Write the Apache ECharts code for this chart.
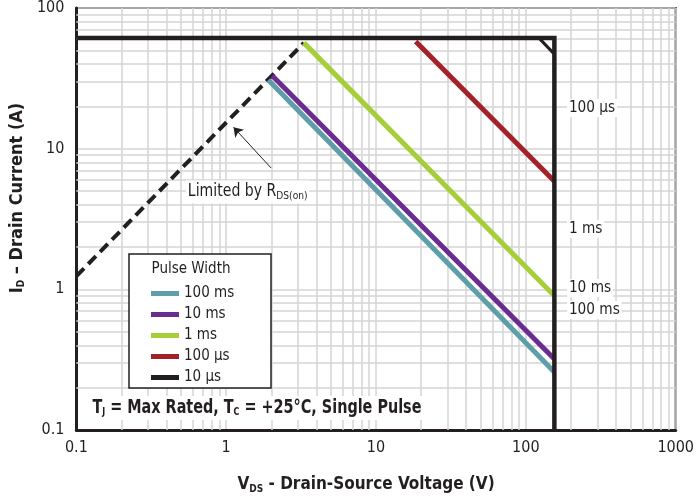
<!DOCTYPE html>
<html lang="en">
<head>
    <meta charset="UTF-8">
    <title>Safe Operating Area</title>
    <style>
        html, body { margin: 0; padding: 0; background: #fff; }
        #container { width: 697px; height: 499px; }
    </style>
</head>
<body>
<div id="container"></div>
<script src="https://cdn.jsdelivr.net/npm/echarts/dist/echarts.min.js"></script>
<script type="text/javascript">
    // values: [V_DS (V), I_D (A)]
    var rdsLimit    = [[0.1, 1.24], [3.3, 56.5]];
    var pulse100ms  = [[1.91, 30.8], [155, 0.258]];
    var pulse10ms   = [[2.03, 33], [155, 0.32]];
    var pulse1ms    = [[3.3, 56.5], [155, 0.9]];
    var pulse100us  = [[18.4, 57.7], [155, 5.86]];
    var pulse10us   = [[0.1, 61.3], [155, 61.3], [155, 0.1]];
    var cornerCut   = [[122, 61.3], [155, 47]];
    var arrowLine   = [[1.99, 7.3], [1.12, 14.2]];

    var legendNames = ['100 ms', '10 ms', '1 ms', '100 µs', '10 µs'];
    var xTicks = ['0.1', '1', '10', '100', '1000'];

    // minor log grid lines (2..9 in every decade)
    var mantissas = [2, 3, 4, 5, 6, 7, 8, 9];
    var xDecades = [0.1, 1, 10, 100];
    var yDecades = [0.1, 1, 10];

    var font = "'Liberation Sans Narrow', 'DejaVu Sans Condensed', sans-serif";
    var ink = '#231f20';
    var gridGrey = '#d4d4d4';

    var minorLines = [];
    xDecades.forEach(function (d) {
        mantissas.forEach(function (m) { minorLines.push({xAxis: +(d * m).toPrecision(3)}); });
    });
    yDecades.forEach(function (d) {
        mantissas.forEach(function (m) { minorLines.push({yAxis: +(d * m).toPrecision(3)}); });
    });

    function pulseLine(name, data, color) {
        return {
            name: name, type: 'line', data: data, symbol: 'none', z: 3,
            lineStyle: {color: color, width: 5, cap: 'butt'},
            itemStyle: {color: color}
        };
    }

    function note(x, y, text, size, sx) {
        return {type: 'text', z: 10, x: x, y: y, scaleX: sx || 1,
            style: {text: text, fontSize: size, fontFamily: font, fill: ink, backgroundColor: '#fff', padding: [1, 2],
                textVerticalAlign: 'middle', verticalAlign: 'middle'}};
    }

    var chart = echarts.init(document.getElementById('container'));
    var option = {
        animation: false,
        textStyle: {fontFamily: font},
        grid: {left: 74, right: 17, top: 8, bottom: 68, show: true, borderColor: ink, borderWidth: 2},
        xAxis: {
            type: 'log', logBase: 10, min: 0.1, max: 1000,
            axisLine: {show: true, lineStyle: {color: ink, width: 3}},
            axisTick: {show: false},
            axisLabel: {
                color: ink, fontSize: 16, fontFamily: font, margin: 10,
                formatter: function (v) {
                    var i = Math.round(Math.log10(v)) + 1;
                    return xTicks[i] || '';
                }
            },
            splitLine: {show: true, lineStyle: {color: gridGrey, width: 1.5}},
            name: '{m|V}{s|DS}{m| - Drain-Source Voltage (V)}',
            nameLocation: 'middle', nameGap: 46,
            nameTextStyle: {
                color: ink,
                padding: [0, 20, 0, 0],
                rich: {
                    m: {fontSize: 17, fontWeight: 'bold', fontFamily: font, color: ink},
                    s: {fontSize: 10, fontWeight: 'bold', fontFamily: font, color: ink, padding: [8, 0, 0, 0]}
                }
            }
        },
        yAxis: {
            type: 'log', logBase: 10, min: 0.1, max: 100,
            axisLine: {show: true, lineStyle: {color: ink, width: 3}},
            axisTick: {show: false},
            axisLabel: {color: ink, fontSize: 16, fontFamily: font, margin: 12},
            splitLine: {show: true, lineStyle: {color: gridGrey, width: 1.5}},
            name: '{m|I}{s|D}{m| – Drain Current (A)}',
            nameLocation: 'middle', nameGap: 44, nameRotate: 90,
            nameTextStyle: {
                color: ink,
                padding: [0, 0, 0, 42],
                rich: {
                    m: {fontSize: 18, fontWeight: 'bold', fontFamily: font, color: ink},
                    s: {fontSize: 10, fontWeight: 'bold', fontFamily: font, color: ink, padding: [8, 0, 0, 0]}
                }
            }
        },
        legend: {
            data: legendNames,
            orient: 'vertical', left: 146, top: 281, z: 12,
            itemWidth: 28, itemHeight: 5, itemGap: 6,
            icon: 'rect',
            textStyle: {fontSize: 15, fontFamily: font, color: ink}
        },
        graphic: [
            {type: 'rect', z: 9, shape: {x: 129, y: 254, width: 142, height: 134},
                style: {fill: '#fff', stroke: ink, lineWidth: 1.5}},
            {type: 'text', z: 10, x: 191, y: 269,
                style: {text: 'Pulse Width', fontSize: 15, fontFamily: font, fill: ink,
                    textAlign: 'center', textVerticalAlign: 'middle', align: 'center', verticalAlign: 'middle'}},
            note(567, 108, '100 µs', 16, 0.95),
            note(567, 229, '1 ms', 16, 0.95),
            note(567, 288, '10 ms', 16, 0.95),
            note(567, 310, '100 ms', 16, 0.95),
            {type: 'text', z: 10, x: 186, y: 192, scaleX: 0.92,
                style: {
                    text: '{m|Limited by R}{s|DS(on)}', backgroundColor: '#fff', padding: [2, 2],
                    textVerticalAlign: 'middle', verticalAlign: 'middle',
                    rich: {
                        m: {fontSize: 17, fontFamily: font, fill: ink, color: ink},
                        s: {fontSize: 11, fontFamily: font, fill: ink, color: ink, padding: [8, 0, 0, 0]}
                    }
                }},
            {type: 'text', z: 10, x: 90, y: 408, scaleX: 0.8,
                style: {
                    text: '{m|T}{s|J}{m| = Max Rated, T}{s|C}{m| = +25°C, Single Pulse}',
                    backgroundColor: '#fff', padding: [2, 3],
                    textVerticalAlign: 'middle', verticalAlign: 'middle',
                    rich: {
                        m: {fontSize: 20, fontWeight: 'bold', fontFamily: font, fill: ink, color: ink},
                        s: {fontSize: 11, fontWeight: 'bold', fontFamily: font, fill: ink, color: ink, padding: [9, 0, 0, 0]}
                    }
                }}
        ],
        series: [
            {
                name: 'grid', type: 'line', data: [], silent: true, z: 1,
                markLine: {
                    silent: true, symbol: ['none', 'none'], z: 1,
                    label: {show: false},
                    lineStyle: {color: gridGrey, width: 1.5, type: 'solid'},
                    emphasis: {disabled: true},
                    data: minorLines
                }
            },
            {
                name: 'RDS(on) limit', type: 'line', data: rdsLimit, symbol: 'none', z: 3,
                lineStyle: {color: ink, width: 4, type: [11, 6], cap: 'butt'},
                markLine: {
                    silent: true, symbol: ['none', 'arrow'], symbolSize: 9, z: 4,
                    label: {show: false},
                    lineStyle: {color: ink, width: 1, type: 'solid'},
                    data: [[{coord: arrowLine[0]}, {coord: arrowLine[1]}]]
                }
            },
            pulseLine('100 ms', pulse100ms, '#5f9ea8'),
            pulseLine('10 ms', pulse10ms, '#6a2c91'),
            pulseLine('1 ms', pulse1ms, '#a6ce39'),
            pulseLine('100 µs', pulse100us, '#a3222a'),
            {
                name: '10 µs', type: 'line', data: pulse10us, symbol: 'none', z: 4,
                lineStyle: {color: ink, width: 4.5, cap: 'butt', join: 'miter'},
                itemStyle: {color: ink}
            },
            {
                name: '10 µs corner', type: 'line', data: cornerCut, symbol: 'none', z: 4,
                lineStyle: {color: ink, width: 3}
            }
        ]
    };
    chart.setOption(option);
</script>
</body>
</html>
